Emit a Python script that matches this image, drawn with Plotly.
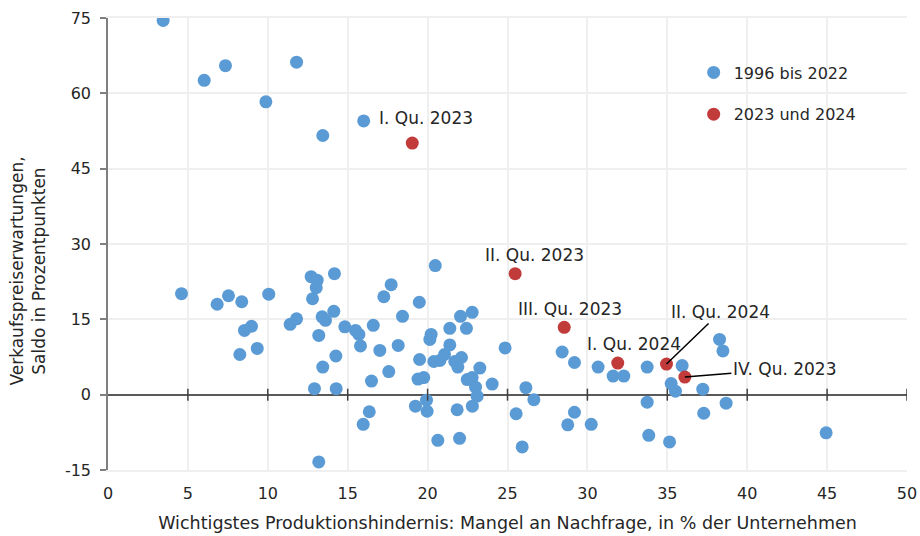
import plotly.graph_objects as go

# 1996 bis 2022
hist_x = [3.45, 6.02, 7.35, 9.88, 11.8, 16.0, 13.44, 4.6, 6.83, 7.54, 8.37, 10.06, 8.54, 8.98,
          8.25, 9.34, 12.71, 13.09, 13.03, 14.17, 12.8, 11.4, 11.8, 13.4, 13.61, 14.13, 13.19,
          14.82, 15.49, 15.7, 16.6, 15.8, 14.26, 13.44, 12.92, 14.28, 17.01, 16.49, 17.57, 18.16,
          17.26, 17.72, 18.43, 19.48, 19.5, 19.4, 16.35, 15.97, 13.19, 20.48, 22.06, 22.79, 21.39,
          22.43, 20.22, 20.14, 21.39, 24.85, 20.39, 20.77, 21.06, 21.7, 22.12, 21.89, 23.27, 19.76,
          22.48, 22.79, 23.0, 23.1, 24.04, 26.15, 26.65, 19.24, 19.93, 19.97, 21.85, 22.8, 20.64,
          22.0, 25.54, 25.92, 28.42, 29.19, 30.67, 31.61, 32.28, 33.74, 35.93, 35.24, 35.51, 37.22,
          38.27, 38.48, 38.68, 37.28, 33.74, 29.19, 28.77, 30.24, 33.84, 35.14, 44.94]
hist_y = [74.5, 62.6, 65.5, 58.3, 66.2, 54.5, 51.6, 20.1, 18.0, 19.7, 18.5, 20.0, 12.8, 13.6,
          8.0, 9.2, 23.5, 22.8, 21.3, 24.1, 19.1, 14.0, 15.1, 15.5, 14.8, 16.6, 11.8,
          13.5, 12.8, 12.0, 13.8, 9.7, 7.7, 5.5, 1.2, 1.2, 8.8, 2.7, 4.6, 9.8,
          19.5, 21.9, 15.6, 18.4, 7.0, 3.1, -3.4, -5.9, -13.4, 25.7, 15.6, 16.4, 13.2,
          13.2, 12.0, 11.0, 9.9, 9.3, 6.6, 6.8, 8.0, 6.6, 7.4, 5.5, 5.3, 3.4,
          3.0, 3.4, 1.5, -0.3, 2.1, 1.4, -1.0, -2.3, -1.1, -3.3, -3.0, -2.3, -9.1,
          -8.7, -3.8, -10.4, 8.5, 6.4, 5.5, 3.7, 3.7, 5.5, 5.8, 2.2, 0.7, 1.1,
          11.0, 8.7, -1.7, -3.7, -1.5, -3.5, -6.0, -5.9, -8.1, -9.4, -7.6]

# 2023 und 2024
recent_labels = ["I. Qu. 2023", "II. Qu. 2023", "III. Qu. 2023", "IV. Qu. 2023", "I. Qu. 2024", "II. Qu. 2024"]
recent_x = [19.04, 25.48, 28.55, 36.1, 31.9, 34.95]
recent_y = [50.1, 24.1, 13.4, 3.5, 6.3, 6.1]

x_ticks = [0, 5, 10, 15, 20, 25, 30, 35, 40, 45, 50]
y_ticks = [-15, 0, 15, 30, 45, 60, 75]
y_ticktext = ["-15", "0", "15", "30", "45", "60", "75"]

FONT = "Century Gothic, DejaVu Sans, sans-serif"
TXT = "#262626"
BLUE = "#5b9bd5"
RED = "#c23b3b"

fig = go.Figure()
fig.add_trace(go.Scatter(x=hist_x, y=hist_y, mode="markers", name="1996 bis 2022",
                         legendgroup="a",
                         marker=dict(color=BLUE, size=13, line=dict(width=0))))
fig.add_trace(go.Scatter(x=recent_x, y=recent_y, mode="markers", name="2023 und 2024",
                         legendgroup="b",
                         marker=dict(color=RED, size=13, line=dict(width=0))))

label_style = {
    "I. Qu. 2023": dict(showarrow=False, xshift=14, yshift=25, xanchor="center"),
    "II. Qu. 2023": dict(showarrow=False, xshift=19, yshift=19, xanchor="center"),
    "III. Qu. 2023": dict(showarrow=False, xshift=6, yshift=18, xanchor="center"),
    "IV. Qu. 2023": dict(showarrow=True, ax=100, ay=-8),
    "I. Qu. 2024": dict(showarrow=False, xshift=16, yshift=19, xanchor="center"),
    "II. Qu. 2024": dict(showarrow=True, ax=54, ay=-52),
}
for lab, xv, yv in zip(recent_labels, recent_x, recent_y):
    st = label_style[lab]
    kw = dict(x=xv, y=yv, xref="x", yref="y", text=lab,
              font=dict(family=FONT, size=17, color=TXT))
    if st.get("showarrow"):
        kw.update(showarrow=True, arrowhead=0, arrowwidth=1.5, arrowcolor="#000000",
                  ax=st["ax"], ay=st["ay"], axref="pixel", ayref="pixel")
    else:
        kw.update(showarrow=False, xshift=st["xshift"], yshift=st["yshift"], xanchor=st["xanchor"])
    fig.add_annotation(**kw)

# y-axis title (rotated text, slightly below the plot centre as in the original)
fig.add_annotation(text="Verkaufspreiserwartungen,<br>Saldo in Prozentpunkten",
                   xref="paper", yref="paper", x=-0.0995, y=0.44, textangle=-90,
                   xanchor="center", yanchor="middle", showarrow=False,
                   font=dict(family=FONT, size=17, color=TXT))

# tick marks crossing the zero line
for t in x_ticks[1:]:
    fig.add_shape(type="line", xref="x", yref="y", x0=t, x1=t, y0=-6, y1=6,
                  ysizemode="pixel", yanchor=0, line=dict(color="#404040", width=1.5))

fig.update_layout(
    width=920, height=536,
    margin=dict(l=108, r=13, t=18, b=66, autoexpand=False),
    paper_bgcolor="white", plot_bgcolor="white",
    font=dict(family=FONT, size=16, color=TXT),
    showlegend=True,
    legend=dict(x=0.733, y=0.917, xanchor="left", yanchor="top",
                bgcolor="rgba(0,0,0,0)", traceorder="grouped", tracegroupgap=18,
                font=dict(family=FONT, size=16, color=TXT), itemwidth=30),
    xaxis=dict(range=[0, 50], tickvals=x_ticks, showgrid=True, gridcolor="#efefef", gridwidth=2,
               zeroline=False, showline=True, linecolor="#efefef", linewidth=2, mirror=True,
               ticks="", ticklabelstandoff=8, automargin=False,
               tickfont=dict(family=FONT, size=16, color=TXT),
               title=dict(text="Wichtigstes Produktionshindernis: Mangel an Nachfrage, in % der Unternehmen",
                          font=dict(family=FONT, size=17.5, color=TXT), standoff=15)),
    yaxis=dict(range=[-15, 75], tickvals=y_ticks, ticktext=y_ticktext, showgrid=True,
               gridcolor="#efefef", gridwidth=2,
               zeroline=True, zerolinecolor="#595959", zerolinewidth=1.5,
               showline=True, linecolor="#7f7f7f", linewidth=1.5, automargin=False,
               ticks="outside", ticklen=6, tickcolor="#7f7f7f", tickwidth=1.5,
               ticklabelstandoff=6,
               tickfont=dict(family=FONT, size=16, color=TXT)),
)

fig.write_html("out.html", config={"displayModeBar": False},
               post_script="document.body.style.margin='0px';document.body.style.overflow='hidden';")
